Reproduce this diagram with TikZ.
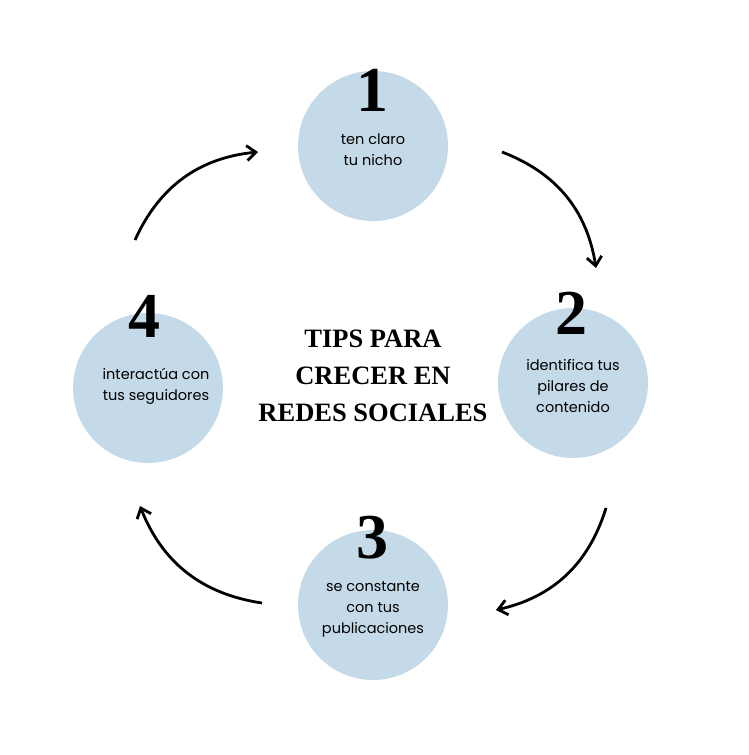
\documentclass[tikz,border=0pt]{standalone}
\usepackage{fontspec}
\setmainfont{Liberation Serif}
\newfontfamily\txtfont{Poppins}
\usetikzlibrary{arrows.meta}
\definecolor{cblue}{HTML}{C5DAE9}
\begin{document}
\begin{tikzpicture}[x=1pt,y=-1pt,
  blob/.style={circle,fill=cblue,minimum size=150pt,inner sep=0pt},
  num/.style={font=\bfseries\fontsize{64}{64}\selectfont},
  lab/.style={font=\txtfont\fontsize{14.5}{21}\selectfont,align=center},
  arr/.style={line width=2.8pt,-{Straight Barb[length=9pt,width=15pt]}}]
\useasboundingbox (0,0) rectangle (749,755);
\node[blob] (c1) at (373,146) {};
\node[blob] (c2) at (573,383) {};
\node[blob] (c3) at (373,605) {};
\node[blob] (c4) at (148,388) {};
\node[num] (n1) at (372,90) {1};
\node[num] (n2) at (571,313) {2};
\node[num] (n3) at (372,538) {3};
\node[num] (n4) at (144,316) {4};
\node[lab] (t1) at (373,150) {ten claro\\tu nicho};
\node[lab] (t2) at (573,386) {identifica tus\\pilares de\\contenido};
\node[lab] (t3) at (373,609) {se constante\\con tus\\publicaciones};
\node[lab] (t4) at (156,386) {interactúa con\\tus seguidores};
\node[font=\bfseries\fontsize{26.5}{37}\selectfont,align=center] (title) at (373,376) {TIPS PARA\\CRECER EN\\REDES SOCIALES};
\coordinate (a1s) at (502,152); \coordinate (a1e) at (596,268);
\coordinate (a2s) at (606,508); \coordinate (a2e) at (496,610);
\coordinate (a3s) at (262,603); \coordinate (a3e) at (140,506);
\coordinate (a4s) at (135,240); \coordinate (a4e) at (258,152);
\draw[arr] (a1s) to[bend left=30] (a1e);
\draw[arr] (a2s) to[bend left=30] (a2e);
\draw[arr] (a3s) to[bend left=30] (a3e);
\draw[arr] (a4s) to[bend left=30] (a4e);
\end{tikzpicture}
\end{document}
